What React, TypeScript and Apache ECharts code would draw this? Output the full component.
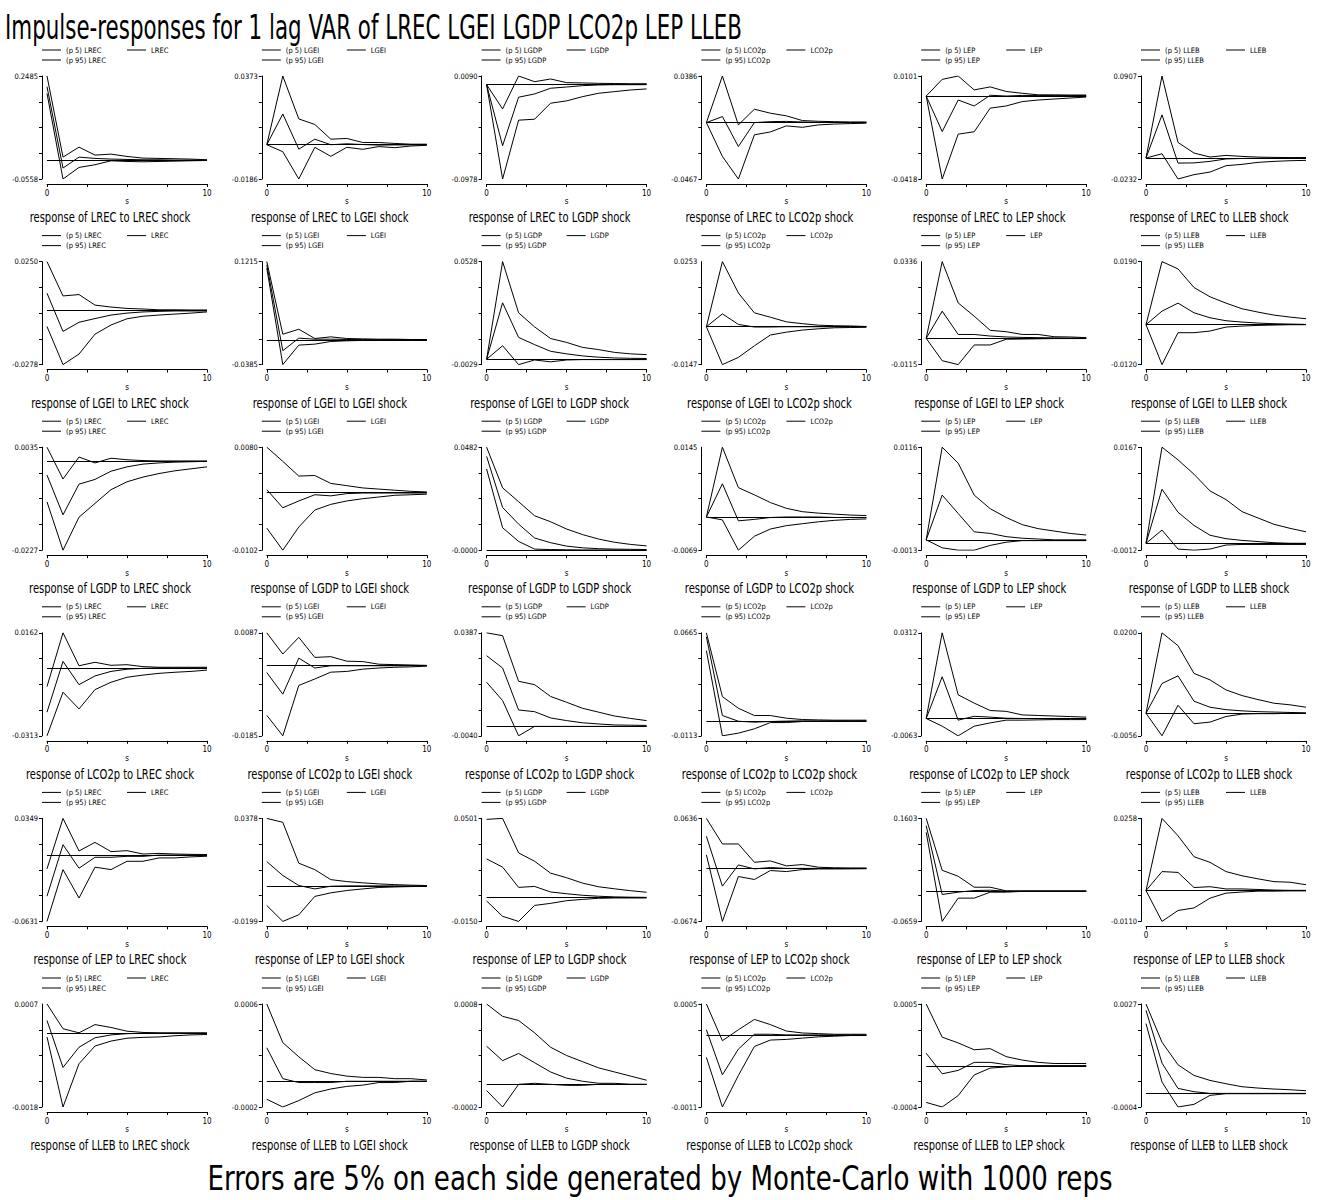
import React, { useEffect, useRef } from "react";
import * as echarts from "echarts";

const VARS = ["LREC", "LGEI", "LGDP", "LCO2p", "LEP", "LLEB"];
const STEPS = [0, 1, 2, 3, 4, 5, 6, 7, 8, 9, 10];
const MAIN_TITLE = "Impulse-responses for 1 lag VAR of LREC LGEI LGDP LCO2p LEP LLEB";
const NOTE = "Errors are 5% on each side generated by Monte-Carlo with 1000 reps";

// axis extents per panel: row = response variable, column = shock variable
const Y_TOP = [
  [0.2485, 0.0373, 0.009, 0.0386, 0.0101, 0.0907],
  [0.025, 0.1215, 0.0528, 0.0253, 0.0336, 0.019],
  [0.0035, 0.008, 0.0482, 0.0145, 0.0116, 0.0167],
  [0.0162, 0.0087, 0.0387, 0.0665, 0.0312, 0.02],
  [0.0349, 0.0378, 0.0501, 0.0636, 0.1603, 0.0258],
  [0.0007, 0.0006, 0.00078, 0.00048, 0.00054, 0.0027],
];
const Y_BOTTOM = [
  [-0.0558, -0.0186, -0.0978, -0.0467, -0.0418, -0.0232],
  [-0.0278, -0.0385, -0.0029, -0.0147, -0.0115, -0.012],
  [-0.0227, -0.0102, -0.00001, -0.0069, -0.0013, -0.0012],
  [-0.0313, -0.0185, -0.004, -0.0113, -0.0063, -0.0056],
  [-0.0631, -0.0199, -0.015, -0.0674, -0.0659, -0.011],
  [-0.0018, -0.0002, -0.00022, -0.00112, -0.00036, -0.0004],
];

// ---- response of LREC ----
const P95_LREC = [
  [0.2485, 0.0089, 0.0384, 0.0148, 0.0177, 0.0108, 0.0059, 0.005, 0.004, 0.003, 0.001],
  [0, 0.0373, 0.014, 0.011, 0.003, 0.0034, 0.0012, 0.0012, 0.0007, 0.0003, 0.0003],
  [0, -0.0251, 0.009, 0.0031, 0.0059, 0.0021, 0.0018, 0.0014, 0.0012, 0.001, 0.001],
  [0, 0.0386, -0.0019, 0.0111, 0.0078, 0.0056, 0.0017, 0.0011, 0.0008, 0.0005, 0.0005],
  [0, 0.0084, 0.0101, 0.0031, 0.0046, 0.0023, 0.0014, 0.0006, 0.0006, 0.0005, 0.0005],
  [0, 0.0907, 0.0172, 0.0055, 0.0011, 0.0029, 0.0018, 0.001, 0.0007, 0.0005, 0.0005],
];
const IRF_LREC = [
  [0.217, -0.0235, 0.0089, 0.005, 0.003, 0.002, 0.001, 0.001, 0, 0, 0],
  [0, 0.0167, -0.0024, 0.003, 0, 0.0005, 0.0001, -0.0002, -0.0001, -0.0001, -0.0001],
  [0, -0.0633, -0.013, -0.0096, -0.0037, -0.0024, -0.001, -0.0003, 0, 0, 0],
  [0, 0.005, -0.0198, 0, 0.0008, 0.001, 0.0005, 0.0002, 0.0002, 0.0002, 0.0002],
  [0, -0.0179, -0.002, -0.005, 0.0004, 0, 0.0003, 0.0003, 0.0003, 0.0003, 0.0003],
  [0, 0.0477, -0.0056, -0.0054, -0.0037, -0.001, -0.0005, -0.0003, -0.0002, -0.0001, 0],
];
const P5_LREC = [
  [0.197, -0.0558, -0.0216, -0.0137, -0.002, -0.004, -0.005, -0.004, -0.003, -0.002, -0.001],
  [0, -0.0038, -0.0186, -0.0014, -0.0063, -0.0014, -0.0025, -0.001, -0.0016, -0.0007, -0.0003],
  [0, -0.0978, -0.0368, -0.0358, -0.0192, -0.0168, -0.0124, -0.0089, -0.0072, -0.0055, -0.0044],
  [0, -0.028, -0.0467, -0.0101, -0.0077, -0.0027, -0.0039, -0.0019, -0.0012, -0.0008, -0.0005],
  [0, -0.0418, -0.0192, -0.018, -0.0061, -0.005, -0.0028, -0.002, -0.0015, -0.001, -0.0005],
  [0, 0.0047, -0.0232, -0.0184, -0.0155, -0.0085, -0.007, -0.0048, -0.0037, -0.003, -0.0026],
];

// ---- response of LGEI ----
const P95_LGEI = [
  [0.025, 0.0074, 0.0081, 0.0027, 0.0017, 0.001, 0.0007, 0.0003, 0.0003, 0.0002, 0.0002],
  [0.1215, 0.0087, 0.0164, 0.002, 0.0046, 0.002, 0.0015, 0.001, 0.001, 0.0005, 0.0005],
  [0, 0.0528, 0.0251, 0.0175, 0.0112, 0.0091, 0.0064, 0.0052, 0.0037, 0.0029, 0.0025],
  [0, 0.0253, 0.0131, 0.0054, 0.0037, 0.0019, 0.0012, 0.0006, 0.0004, 0.0003, 0.0001],
  [0, 0.0336, 0.0155, 0.0097, 0.0035, 0.0029, 0.0017, 0.0017, 0.0007, 0.0006, 0.0003],
  [0, 0.019, 0.0168, 0.0112, 0.0084, 0.0065, 0.0048, 0.0038, 0.0029, 0.0023, 0.0018],
];
const IRF_LGEI = [
  [0.0088, -0.0108, -0.0061, -0.0042, -0.0024, -0.0014, -0.0008, -0.0005, -0.0003, -0.0003, -0.0003],
  [0.1164, -0.0169, 0.0026, 0.001, 0.001, 0.0005, 0.0003, 0.0002, 0.0001, 0, 0],
  [0, 0.0305, 0.0118, 0.0079, 0.0043, 0.0029, 0.0018, 0.0011, 0.0007, 0.0005, 0.0004],
  [0, 0.005, 0.0009, -0.0001, -0.0001, 0, 0, 0, 0, 0, 0],
  [0, 0.0119, 0.0017, 0.0017, 0.001, 0.0006, 0.0004, 0.0003, 0.0002, 0.0001, 0.0001],
  [0, 0.0041, 0.0065, 0.0036, 0.0021, 0.0012, 0.0008, 0.0005, 0.0003, 0.0002, 0.0001],
];
const P5_LGEI = [
  [-0.0083, -0.0278, -0.0224, -0.0122, -0.0075, -0.0043, -0.003, -0.0024, -0.0019, -0.0014, -0.0008],
  [0.1113, -0.0385, -0.0082, -0.0067, -0.0026, -0.0015, -0.001, -0.0005, -0.0001, -0.0001, -0.0001],
  [0, 0.0073, -0.0029, -0.0004, -0.0014, -0.0004, -0.0002, -0.0002, -0.0002, -0.0002, -0.0002],
  [0, -0.0147, -0.0119, -0.0074, -0.0032, -0.0021, -0.0013, -0.0008, -0.0004, -0.0003, -0.0002],
  [0, -0.0098, -0.0115, -0.0029, -0.0029, -0.0004, -0.0003, -0.0002, -0.0001, -0.0001, -0.0001],
  [0, -0.012, -0.0024, -0.0024, -0.0019, -0.0007, -0.0004, -0.0002, -0.0001, 0, 0],
];

// ---- response of LGDP ----
const P95_LGDP = [
  [0.0035, -0.0046, 0.001, -0.0005, 0.0007, 0.0003, 0.0001, 0, 0, 0, 0],
  [0.008, 0.0055, 0.0029, 0.003, 0.0016, 0.0012, 0.0008, 0.0006, 0.0004, 0.0002, 0.0001],
  [0.0482, 0.0292, 0.0227, 0.0161, 0.0133, 0.0099, 0.0073, 0.0052, 0.0037, 0.0027, 0.002],
  [0, 0.0145, 0.0061, 0.0046, 0.003, 0.0018, 0.0011, 0.0008, 0.0006, 0.0004, 0.0003],
  [0, 0.0116, 0.0096, 0.0056, 0.0039, 0.0028, 0.0019, 0.0014, 0.0011, 0.0008, 0.0006],
  [0, 0.0167, 0.0145, 0.012, 0.0091, 0.0076, 0.0055, 0.0044, 0.0033, 0.0026, 0.002],
];
const IRF_LGDP = [
  [-0.0036, -0.0137, -0.0059, -0.0047, -0.0026, -0.0015, -0.0008, -0.0005, -0.0003, -0.0002, -0.0001],
  [0.0005, -0.0027, -0.0015, -0.0004, -0.0006, -0.0002, -0.0001, -0.0001, -0.0001, -0.0001, -0.0001],
  [0.0439, 0.02, 0.0122, 0.0057, 0.0035, 0.0019, 0.0011, 0.0007, 0.0005, 0.0004, 0.0003],
  [0, 0.0069, -0.0008, -0.0005, -0.0001, 0, 0, 0, -0.0001, -0.0001, -0.0001],
  [0, 0.0056, 0.0033, 0.001, 0.0008, 0.0004, 0.0002, 0.0001, 0, 0, 0],
  [0, 0.0094, 0.0054, 0.0031, 0.0014, 0.0008, 0.0005, 0.0003, 0.0001, 0, 0],
];
const P5_LGDP = [
  [-0.0104, -0.0227, -0.0143, -0.0108, -0.0073, -0.0053, -0.0041, -0.0032, -0.0025, -0.002, -0.0015],
  [-0.0063, -0.0102, -0.0061, -0.0031, -0.0021, -0.0015, -0.0011, -0.0008, -0.0005, -0.0004, -0.0003],
  [0.038, 0.0105, 0.0041, 0.0005, 0.0003, 0.0002, 0.0001, 0.0001, 0.0001, 0, -0.00001],
  [0, -0.0006, -0.0069, -0.004, -0.0025, -0.0018, -0.0014, -0.001, -0.0007, -0.0005, -0.0004],
  [0, -0.001, -0.0013, -0.0013, -0.0007, -0.0003, -0.0001, -0.0001, -0.0001, -0.0001, -0.0001],
  [0, 0.0023, -0.001, -0.0012, -0.001, -0.0003, -0.0002, -0.0002, -0.0002, -0.0002, -0.0002],
];

// ---- response of LCO2p ----
const P95_LCO2P = [
  [-0.0086, 0.0162, 0.001, 0.0026, 0.0012, 0.0015, 0.0006, 0.0003, 0.0003, 0.0003, 0.0003],
  [0.0087, 0.0031, 0.0075, 0.0022, 0.0024, 0.0012, 0.0011, 0.0004, 0.0003, 0.0002, 0.0001],
  [0.0387, 0.0375, 0.0186, 0.0172, 0.0123, 0.0099, 0.0074, 0.0058, 0.0042, 0.0032, 0.0023],
  [0.0665, 0.0183, 0.0095, 0.004, 0.004, 0.002, 0.001, 0.0007, 0.0005, 0.0005, 0.0005],
  [0, 0.0312, 0.0086, 0.0056, 0.0029, 0.0026, 0.0013, 0.0011, 0.0009, 0.0007, 0.0005],
  [0, 0.02, 0.0168, 0.0099, 0.0083, 0.0058, 0.0044, 0.0034, 0.0025, 0.0021, 0.0015],
];
const IRF_LCO2P = [
  [-0.0204, 0.003, -0.0077, -0.0037, -0.0016, -0.0006, -0.0002, 0, 0, 0, 0],
  [-0.0018, -0.0075, 0.002, -0.0006, 0, 0, 0, 0, 0, 0, 0],
  [0.0292, 0.0241, 0.0067, 0.006, 0.0034, 0.0023, 0.0014, 0.0009, 0.0005, 0.0004, 0.0003],
  [0.0635, 0.004, -0.0003, -0.001, -0.0005, -0.0002, 0, 0, 0, 0, 0],
  [0, 0.0152, -0.0006, 0.0008, 0.0005, 0.0001, 0, 0, 0, 0, 0],
  [0, 0.0074, 0.0093, 0.003, 0.0015, 0.0009, 0.0006, 0.0004, 0.0003, 0.0002, 0.0001],
];
const P5_LCO2P = [
  [-0.0313, -0.0112, -0.0189, -0.01, -0.0066, -0.0043, -0.0033, -0.0025, -0.002, -0.0016, -0.001],
  [-0.0131, -0.0185, -0.0052, -0.0035, -0.0017, -0.0015, -0.0009, -0.0006, -0.0004, -0.0003, -0.0001],
  [0.0182, 0.0106, -0.004, -0.0001, -0.0001, -0.0001, -0.0001, -0.0001, -0.0001, -0.0001, -0.0001],
  [0.053, -0.0113, -0.0093, -0.006, -0.0013, -0.0013, -0.0005, -0.0005, -0.0003, -0.0003, -0.0003],
  [0, -0.0028, -0.0063, -0.0028, -0.0016, -0.0006, -0.0006, -0.0005, -0.0004, -0.0004, -0.0004],
  [0, -0.0056, 0.002, -0.0026, -0.0022, -0.0008, -0.0002, -0.0001, -0.0001, 0, 0],
];

// ---- response of LEP ----
const P95_LEP = [
  [-0.0131, 0.0349, 0.0039, 0.0121, 0.0033, 0.0042, 0.001, 0.0016, 0.001, 0.0007, 0.0005],
  [0.0378, 0.0356, 0.0127, 0.0091, 0.0035, 0.0024, 0.0017, 0.0011, 0.0007, 0.0004, 0.0002],
  [0.0495, 0.0501, 0.0283, 0.023, 0.0155, 0.0126, 0.0092, 0.0069, 0.0056, 0.0044, 0.0034],
  [0.0636, 0.0311, 0.0311, 0.0078, 0.0095, 0.0032, 0.0049, 0.0015, 0.0008, 0.0005, 0.0005],
  [0.1603, 0.0463, 0.0332, 0.0092, 0.0092, 0.0012, 0.0012, 0.0012, 0.0012, 0.0012, 0.0012],
  [0, 0.0258, 0.0196, 0.0121, 0.0101, 0.0068, 0.0053, 0.0042, 0.0032, 0.003, 0.0021],
];
const IRF_LEP = [
  [-0.0391, 0.0099, -0.0125, -0.0021, -0.0021, -0.0012, -0.0012, 0, 0, 0, 0],
  [0.0136, 0.0058, 0.0002, -0.0017, -0.0002, 0, 0, 0, 0, 0, 0],
  [0.0245, 0.0193, 0.0065, 0.0071, 0.0036, 0.0025, 0.0015, 0.0009, 0.0005, 0.0003, 0.0002],
  [0.0408, -0.0226, 0.0044, -0.0006, 0.0011, 0, 0, 0, 0, 0, 0],
  [0.1443, -0.0068, -0.0017, 0.0019, 0.0026, 0.0005, 0.0005, 0.0005, 0.0005, 0.0005, 0.0005],
  [0, 0.0068, 0.0065, 0.0011, 0.0014, 0.0006, 0.0006, 0.0004, 0.0002, 0.0001, 0.0001],
];
const P5_LEP = [
  [-0.0631, -0.0138, -0.0409, -0.0115, -0.0138, -0.0059, -0.0059, -0.0027, -0.0027, -0.0017, -0.0011],
  [-0.011, -0.0199, -0.0162, -0.0059, -0.0039, -0.0026, -0.0017, -0.0009, -0.0006, -0.0004, -0.0002],
  [-0.0021, -0.0118, -0.015, -0.0049, -0.0036, -0.0019, -0.0011, -0.0004, -0.0002, -0.0002, -0.0002],
  [0.0172, -0.0674, -0.0103, -0.0141, -0.0027, -0.004, -0.0015, -0.0007, -0.0007, -0.0006, -0.0004],
  [0.1297, -0.0659, -0.0148, -0.0148, -0.0017, -0.0017, 0, 0, 0, 0, 0],
  [0, -0.011, -0.0071, -0.0062, -0.0027, -0.0009, -0.0005, -0.0002, -0.0002, -0.0001, -0.0001],
];

// ---- response of LLEB ----
const P95_LLEB = [
  [0.0007, 0.0001, 0, 0.0002, 0.00013, 0.00004, 0.00001, 0, 0, 0, 0],
  [0.0006, 0.0003, 0.00019, 0.00009, 0.00006, 0.00004, 0.00003, 0.00003, 0.00002, 0.00002, 0.00001],
  [0.00078, 0.00066, 0.00062, 0.0005, 0.00036, 0.00028, 0.00022, 0.00016, 0.00012, 0.00008, 0.00004],
  [0.00048, -0.00009, 0.00008, 0.00024, 0.00016, 0.00006, 0.00003, 0.00002, 0.00001, 0.00001, 0.00001],
  [0.00054, 0.00025, 0.0002, 0.00014, 0.00015, 0.00008, 0.00005, 0.00003, 0.00002, 0.00002, 0.00002],
  [0.0027, 0.00155, 0.00087, 0.00055, 0.0004, 0.0003, 0.00021, 0.00017, 0.00014, 0.00012, 0.00009],
];
const IRF_LLEB = [
  [0.0003, -0.00084, -0.00035, -0.00012, -0.00005, -0.00002, -0.00001, -0.00001, -0.00001, -0.00001, -0.00001],
  [0.00026, 0.00002, -0.00001, -0.00001, -0.00001, 0, 0, 0, 0, 0, 0],
  [0.00037, 0.00023, 0.0003, 0.00021, 0.00012, 0.00006, 0.00003, 0.00001, 0.00001, 0, 0],
  [0.00008, -0.00062, -0.00022, 0.00001, 0.00001, 0, 0, 0, 0, 0, 0],
  [0.00011, -0.00007, -0.00004, 0.00003, 0.00003, 0.00001, 0, 0, 0, 0, 0],
  [0.00251, 0.00092, 0.00016, 0.00006, 0.00001, 0.00001, 0.00001, 0.00001, 0.00001, 0.00001, 0.00001],
];
const P5_LLEB = [
  [-0.0001, -0.0018, -0.00075, -0.00032, -0.0002, -0.00013, -0.00011, -0.0001, -0.00007, -0.00005, -0.00004],
  [-0.00014, -0.0002, -0.00015, -0.00009, -0.00006, -0.00004, -0.00003, -0.00001, -0.00001, 0, 0],
  [-0.00006, -0.00022, 0, 0.00001, 0, -0.00001, -0.00001, 0, 0, 0, 0],
  [-0.00035, -0.00112, -0.00063, -0.00018, -0.00008, -0.00007, -0.00005, -0.00003, -0.00002, -0.00001, -0.00001],
  [-0.00032, -0.00036, -0.00026, -0.00008, -0.00002, -0.00001, 0, 0, 0, 0, 0],
  [0.00211, 0.00035, -0.0004, -0.00032, -0.00005, 0, 0, 0, 0, 0, 0],
];

const P95 = [P95_LREC, P95_LGEI, P95_LGDP, P95_LCO2P, P95_LEP, P95_LLEB];
const IRF = [IRF_LREC, IRF_LGEI, IRF_LGDP, IRF_LCO2P, IRF_LEP, IRF_LLEB];
const P5 = [P5_LREC, P5_LGEI, P5_LGDP, P5_LCO2P, P5_LEP, P5_LLEB];

// layout
const FONT = "'Liberation Sans Narrow', 'Arial Narrow', 'DejaVu Sans Condensed', 'Liberation Sans', sans-serif";
const COL_W = 219.8;
const ROW_H = 185.6;
const PLOT_LEFT = 47;
const PLOT_W = 160;
const PLOT_TOP = 76;
const PLOT_H = 103;

function buildOption() {
  const grids: any[] = [];
  const xAxes: any[] = [];
  const yAxes: any[] = [];
  const series: any[] = [];
  const legends: any[] = [];
  const graphics: any[] = [];

  for (let r = 0; r < 6; r++) {
    for (let c = 0; c < 6; c++) {
      const idx = r * 6 + c;
      const left = PLOT_LEFT + COL_W * c;
      const top = PLOT_TOP + ROW_H * r;
      const yMax = Y_TOP[r][c];
      const yMin = Y_BOTTOM[r][c];
      const tickVals = [0, 1, 2, 3, 4].map((k) => yMin + ((yMax - yMin) * k) / 4);
      grids.push({ left, top, width: PLOT_W, height: PLOT_H, outerBoundsMode: "none", containLabel: false });
      xAxes.push({
        gridIndex: idx,
        type: "value",
        min: 0,
        max: 10,
        interval: 2.5,
        offset: 5,
        axisLine: { show: true, onZero: false, lineStyle: { color: "#000", width: 1 } },
        axisTick: { show: true, length: 3, lineStyle: { color: "#000", width: 1 } },
        axisLabel: {
          fontSize: 8,
          color: "#000",
          fontFamily: FONT,
          margin: 5,
          formatter: (v: number) => (v === 0 || v === 10 ? String(v) : ""),
        },
        splitLine: { show: false },
        name: "s",
        nameLocation: "middle",
        nameGap: 12,
        nameTextStyle: { fontSize: 8, color: "#000", fontFamily: FONT },
      });
      yAxes.push({
        gridIndex: idx,
        type: "value",
        min: yMin,
        max: yMax,
        offset: 5,
        axisLine: { show: true, onZero: false, lineStyle: { color: "#000", width: 1 } },
        axisTick: { show: true, length: 3, customValues: tickVals, lineStyle: { color: "#000", width: 1 } },
        axisLabel: {
          fontSize: 7.5,
          color: "#000",
          fontFamily: FONT,
          margin: 4,
          customValues: [yMin, yMax],
          formatter: (v: number) => v.toFixed(4),
        },
        splitLine: { show: false },
      });
      const v = VARS[c];
      const mk = (name: string, vals: number[], extra: any = {}) => ({
        type: "line",
        name,
        xAxisIndex: idx,
        yAxisIndex: idx,
        data: STEPS.map((s, i) => [s, vals[i]]),
        symbol: "none",
        showSymbol: false,
        lineStyle: { color: "#000", width: 1 },
        itemStyle: { color: "#000" },
        emphasis: { disabled: true },
        ...extra,
      });
      series.push(mk(`(p 5) ${v}`, P5[r][c]));
      series.push(
        mk(v, IRF[r][c], {
          markLine: {
            silent: true,
            symbol: ["none", "none"],
            label: { show: false },
            lineStyle: { color: "#000", width: 1, type: "solid" },
            emphasis: { disabled: true },
            data: [{ yAxis: 0 }],
          },
        })
      );
      series.push(mk(`(p 95) ${v}`, P95[r][c]));

      legends.push({
        left: left - 5,
        top: top - 31,
        width: 200,
        padding: 0,
        itemGap: 0,
        itemWidth: 19,
        itemHeight: 1,
        icon: "rect",
        selectedMode: false,
        data: [`(p 5) ${v}`, v, `(p 95) ${v}`],
        textStyle: { fontSize: 7.5, color: "#000", fontFamily: FONT, width: 61, lineHeight: 10 },
      });

      graphics.push({
        type: "text",
        x: COL_W * c + 110,
        y: ROW_H * r + 217,
        scaleX: 0.79,
        style: {
          text: `response of ${VARS[r]} to ${v} shock`,
          fontSize: 14,
          fontFamily: FONT,
          fill: "#000",
          align: "center",
          verticalAlign: "middle",
        },
      });
    }
  }

  graphics.push({
    type: "text",
    x: 5,
    y: 27,
    scaleX: 0.7,
    z: 0,
    style: {
      text: MAIN_TITLE,
      fontSize: 34,
      fontFamily: FONT,
      fill: "#000",
      align: "left",
      verticalAlign: "middle",
    },
  });
  graphics.push({
    type: "text",
    x: 660,
    y: 1178,
    scaleX: 0.854,
    style: {
      text: NOTE,
      fontSize: 34,
      fontFamily: FONT,
      fill: "#000",
      align: "center",
      verticalAlign: "middle",
    },
  });

  return {
    animation: false,
    backgroundColor: "#fff",
    legend: legends,
    grid: grids,
    xAxis: xAxes,
    yAxis: yAxes,
    series,
    graphic: graphics,
  };
}

export default function App() {
  const ref = useRef<HTMLDivElement>(null);
  useEffect(() => {
    if (!ref.current) return;
    const chart = echarts.init(ref.current, undefined, { renderer: "svg" });
    chart.setOption(buildOption() as any);
    return () => chart.dispose();
  }, []);
  return (
    <div
      ref={ref}
      style={{ position: "absolute", left: 0, top: 0, width: 1319, height: 1200, background: "#fff" }}
    />
  );
}
